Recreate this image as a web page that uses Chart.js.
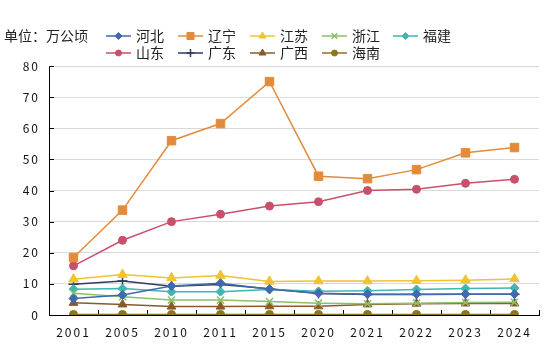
<!DOCTYPE html>
<html>
<head>
<meta charset="utf-8">
<script src="https://cdn.jsdelivr.net/npm/chart.js@4/dist/chart.umd.min.js"></script>
<style>
    html, body { margin: 0; padding: 0; background: #fff; }
    #wrap { position: relative; width: 555px; height: 361px; }
</style>
</head>
<body>
<div id="wrap"><canvas id="chart" width="555" height="361"></canvas></div>
<script>
// 海水养殖面积 by province, 万公顷
const years = ['2001', '2005', '2010', '2011', '2015', '2020', '2021', '2022', '2023', '2024'];
const hebei     = [5.3, 6.4, 9.3, 10.2, 8.3, 7.0, 6.7, 6.7, 6.7, 6.7];
const liaoning  = [18.5, 33.7, 56.0, 61.5, 75.0, 44.6, 43.8, 46.7, 52.1, 53.8];
const jiangsu   = [11.5, 13.0, 11.9, 12.7, 10.8, 10.9, 10.9, 11.0, 11.2, 11.6];
const zhejiang  = [7.0, 5.9, 4.8, 4.8, 4.3, 3.8, 3.6, 3.8, 4.0, 4.1];
const fujian    = [8.3, 8.5, 7.5, 7.5, 8.2, 7.6, 7.8, 8.2, 8.5, 8.7];
const shandong  = [15.8, 24.0, 30.0, 32.4, 35.0, 36.4, 40.0, 40.4, 42.3, 43.6];
const guangdong = [9.9, 10.9, 9.2, 9.8, 8.4, 6.9, 6.6, 6.6, 6.7, 6.7];
const guangxi   = [3.9, 3.4, 2.7, 2.7, 2.8, 2.8, 3.4, 3.6, 3.7, 3.7];
const hainan    = [0.2, 0.2, 0.2, 0.2, 0.2, 0.2, 0.2, 0.2, 0.2, 0.2];
const yTicks = [0, 10, 20, 30, 40, 50, 60, 70, 80];

const FONT = '"Noto Sans CJK SC", "Noto Sans", sans-serif';

function series(label, data, color, style, radius, legendRadius) {
    return {
        label: label,
        data: data,
        borderColor: color,
        backgroundColor: color,
        pointBorderColor: color,
        pointBackgroundColor: color,
        pointStyle: style,
        pointRadius: radius,
        pointBorderWidth: style === 'cross' || style === 'crossRot' ? 1.5 : 1,
        borderWidth: 1.5,
        tension: 0,
        legendRadius: legendRadius
    };
}

const datasets = [
    series('河北', hebei, '#4169b0', 'rectRot', 4.5, 3.5),
    series('辽宁', liaoning, '#e38b3c', 'rect', 6, 5),
    series('江苏', jiangsu, '#f0c330', 'triangle', 5.5, 4),
    series('浙江', zhejiang, '#8cbf68', 'crossRot', 5, 4),
    series('福建', fujian, '#3fb6b0', 'rectRot', 4.5, 3.5),
    series('山东', shandong, '#c9506a', 'circle', 4, 3),
    series('广东', guangdong, '#2e3e5e', 'cross', 5, 4),
    series('广西', guangxi, '#8a5a2c', 'triangle', 5, 4),
    series('海南', hainan, '#8c7420', 'circle', 4, 3)
];

// legend: two rows, fixed columns, line sample with marker
const legendCols = [106, 178, 250, 322, 393];
const legendRows = [36, 53];

const customDecor = {
    id: 'customDecor',
    beforeDraw(chart) {
        chart.ctx.letterSpacing = '2px';
    },
    beforeDatasetsDraw(chart) {
        const ctx = chart.ctx;
        const x = chart.scales.x;
        const y = chart.scales.y;
        ctx.save();
        ctx.strokeStyle = '#000';
        ctx.lineWidth = 1;
        // y ticks, pointing inward
        yTicks.forEach(v => {
            const py = Math.round(y.getPixelForValue(v)) + 0.5;
            ctx.beginPath();
            ctx.moveTo(x.left, py);
            ctx.lineTo(x.left + 5, py);
            ctx.stroke();
        });
        // x ticks at category boundaries, pointing inward
        for (let i = 0; i <= years.length; i++) {
            const px = Math.round(x.getPixelForValue(i - 0.5)) + 0.5;
            ctx.beginPath();
            ctx.moveTo(px, y.bottom);
            ctx.lineTo(px, y.bottom - 5);
            ctx.stroke();
        }
        ctx.restore();
    },
    afterDraw(chart) {
        const ctx = chart.ctx;
        ctx.save();
        ctx.letterSpacing = '0px';
        ctx.font = '14px ' + FONT;
        ctx.fillStyle = '#222';
        ctx.textBaseline = 'middle';
        ctx.textAlign = 'left';
        ctx.fillText('单位：万公顷', 4, legendRows[0]);
        datasets.forEach((ds, i) => {
            const row = i < 5 ? 0 : 1;
            const col = i < 5 ? i : i - 5;
            const lx = legendCols[col];
            const ly = legendRows[row];
            ctx.strokeStyle = ds.borderColor;
            ctx.lineWidth = 1.5;
            ctx.beginPath();
            ctx.moveTo(lx, ly);
            ctx.lineTo(lx + 25, ly);
            ctx.stroke();
            ctx.fillStyle = ds.borderColor;
            ctx.lineWidth = ds.pointBorderWidth;
            Chart.helpers.drawPoint(ctx, {
                pointStyle: ds.pointStyle,
                rotation: 0,
                radius: ds.legendRadius,
                borderWidth: ds.pointBorderWidth
            }, lx + 12.5, ly);
            ctx.fillStyle = '#222';
            ctx.fillText(ds.label, lx + 30, ly);
        });
        ctx.restore();
    }
};

new Chart(document.getElementById('chart').getContext('2d'), {
    type: 'line',
    data: { labels: years, datasets: datasets },
    plugins: [customDecor],
    options: {
        responsive: false,
        animation: false,
        events: [],
        layout: { padding: { top: 66, right: 16, left: 0, bottom: 0 } },
        plugins: {
            legend: { display: false },
            tooltip: { enabled: false }
        },
        scales: {
            x: {
                offset: true,
                grid: { display: false, drawTicks: false },
                border: { display: true, color: '#000', width: 1 },
                ticks: {
                    padding: 10,
                    color: '#111',
                    font: { family: FONT, size: 12 }
                },
                afterFit(scale) { scale.height = 46; }
            },
            y: {
                min: 0,
                max: 80,
                afterBuildTicks(scale) {
                    scale.ticks = yTicks.map(v => ({ value: v }));
                },
                grid: {
                    drawTicks: false,
                    color: ctx => ctx.tick && ctx.tick.value === 0 ? 'rgba(0,0,0,0)' : '#d9d9d9',
                    lineWidth: 1
                },
                border: { display: true, color: '#000', width: 1 },
                ticks: {
                    padding: 9,
                    color: '#111',
                    font: { family: FONT, size: 12 }
                },
                afterFit(scale) { scale.width = 49; }
            }
        }
    }
});
</script>
</body>
</html>
